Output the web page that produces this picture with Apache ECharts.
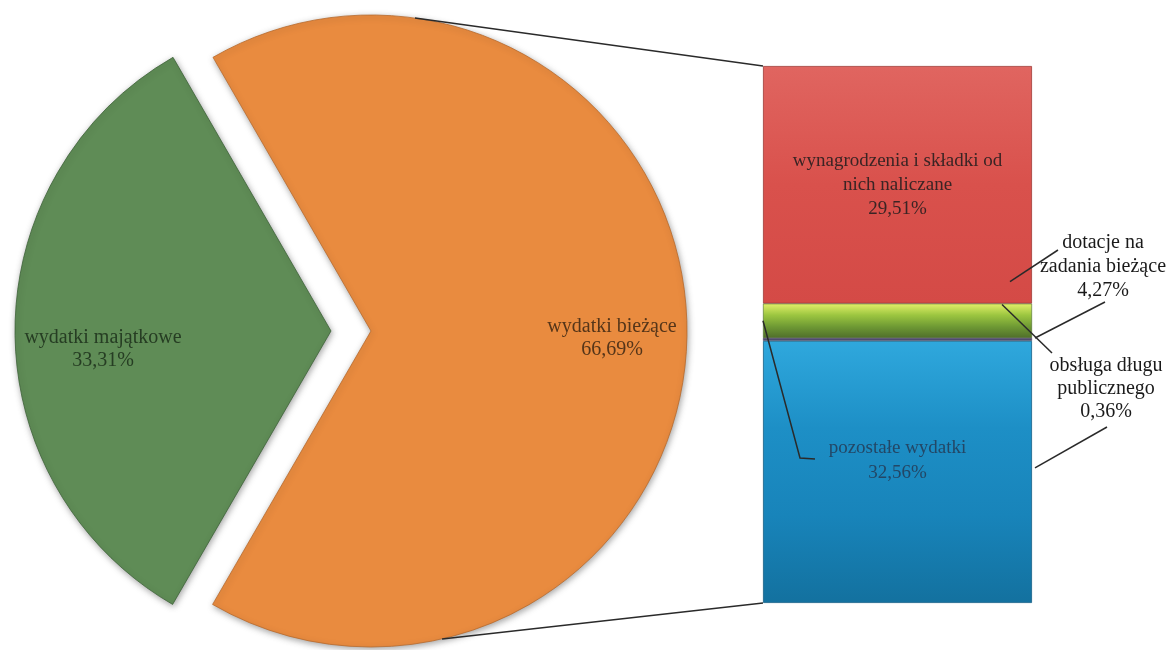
<!DOCTYPE html>
<html><head><meta charset="utf-8">
<script src="https://cdn.jsdelivr.net/npm/echarts@6/dist/echarts.min.js"></script>
<style>html,body{margin:0;padding:0;background:#fff}#c{width:1169px;height:650px}</style>
</head><body><div id="c"></div>
<script>
const pieNames = ['wydatki bieżące', 'wydatki majątkowe'];
const pieValues = [66.69, 33.31];
const barNames = ['wynagrodzenia i składki od\nnich naliczane', 'dotacje na\nzadania bieżące', 'obsługa długu\npublicznego', 'pozostałe wydatki'];
const barValues = [29.51, 4.27, 0.36, 32.56];

const fmt = v => v.toFixed(2).replace('.', ',') + '%';
const serif = 'Liberation Serif';
const CX = 371, CY = 331, R = 316, EXPLODE = 40;
const BAR_L = 763, BAR_W = 269, BAR_T = 66, BAR_H = 537;
const barTotal = barValues.reduce((a, b) => a + b, 0);

const chart = echarts.init(document.getElementById('c'));

const vgrad = stops => ({type: 'linear', x: 0, y: 0, x2: 0, y2: 1,
  colorStops: stops.map((c, i) => ({offset: i / (stops.length - 1), color: c}))});

const barStyles = [
  {color: vgrad(['#e06560', '#d9514c', '#d44a46']), borderColor: '#9e3a36', borderWidth: 0.8},
  {color: vgrad(['#e4ef6a', '#9cc640', '#6f9a34', '#4f6e2a']), borderColor: '#4a6a2a', borderWidth: 0.6},
  {color: '#4f4a6e', borderColor: '#3a3550', borderWidth: 0.5},
  {color: vgrad(['#2fa8dd', '#1d8fc6', '#1884ba', '#13719f']), borderColor: '#155f85', borderWidth: 0.8}
];
const barLabels = [
  {show: true, position: 'inside', color: '#3a2424', fontSize: 19, lineHeight: 24},
  {show: true, position: 'inside', color: '#1a1a1a', fontSize: 20, lineHeight: 24},
  {show: true, position: 'inside', color: '#1a1a1a', fontSize: 20, lineHeight: 23},
  {show: true, position: 'inside', color: '#234766', fontSize: 19, lineHeight: 25}
];
const barLayouts = [
  null,
  {x: 1103, y: 267, align: 'center', verticalAlign: 'middle'},
  {x: 1106, y: 389, align: 'center', verticalAlign: 'middle'},
  {dy: -11}
];

const barSeries = barValues.map((v, i) => {
  const s = {
    type: 'bar', name: barNames[i], stack: 'total', xAxisIndex: 0, yAxisIndex: 0,
    barWidth: '100%', data: [v], itemStyle: barStyles[i],
    label: Object.assign({fontFamily: serif, formatter: p => barNames[i] + '\n' + fmt(p.value)}, barLabels[i]),
    emphasis: {disabled: true}
  };
  if (barLayouts[i]) s.labelLayout = barLayouts[i];
  return s;
});

const pieColors = ['#e98b3f', '#5f8c56'];
const pieBorders = ['#b8692c', '#3e6238'];
const pieLabelColors = ['#553519', '#263d23'];
const pieLabelPos = [[612, 338], [103, 349]];
const pieCenters = [[CX, CY], [CX - EXPLODE, CY]];

// one pie series per slice (the other slice kept invisible) so that the exploded slice has its own centre
const pieSeries = pieValues.map((v, k) => ({
  type: 'pie', center: pieCenters[k], radius: R, startAngle: 120, clockwise: true,
  emphasis: {disabled: true}, silent: true,
  data: pieValues.map((val, j) => j === k
    ? {name: pieNames[j], value: val,
       itemStyle: {color: pieColors[j], borderColor: pieBorders[j], borderWidth: 0.8,
         shadowBlur: 6, shadowColor: 'rgba(0,0,0,0.35)', shadowOffsetX: 1, shadowOffsetY: 2},
       label: {show: true, color: pieLabelColors[j]}}
    : {name: pieNames[j], value: val, itemStyle: {color: 'rgba(0,0,0,0)', borderWidth: 0},
       label: {show: false}}),
  label: {position: 'inside', fontFamily: serif, fontSize: 20, lineHeight: 23,
    formatter: p => p.name + '\n' + fmt(p.value)},
  labelLine: {show: false},
  labelLayout: {x: pieLabelPos[k][0], y: pieLabelPos[k][1], align: 'center', verticalAlign: 'middle'},
  z: 2
}));

chart.setOption({
  animation: false,
  backgroundColor: '#ffffff',
  grid: [{left: BAR_L, top: BAR_T, width: BAR_W, height: BAR_H}],
  xAxis: [{type: 'category', data: ['inne'], show: false, gridIndex: 0}],
  yAxis: [{type: 'value', min: 0, max: barTotal, inverse: true, show: false, gridIndex: 0}],
  series: pieSeries.concat(barSeries)
});

const yPix = v => chart.convertToPixel({yAxisIndex: 0}, v);
const c1 = barValues[0], c2 = c1 + barValues[1], c3 = c2 + barValues[2];
const rightX = BAR_L + BAR_W;
const rad = a => a * Math.PI / 180;
const pTop = [CX + R * Math.cos(rad(82)), CY - R * Math.sin(rad(82))];
const pBot = [CX + R * Math.cos(rad(-77)), CY - R * Math.sin(rad(-77))];
const lineStyle = {stroke: '#2a2a2a', lineWidth: 1.5, fill: null};
const mk = pts => ({type: 'polyline', shape: {points: pts}, style: lineStyle, z: 10, silent: true});

chart.setOption({graphic: [
  mk([pTop, [BAR_L, yPix(0)]]),
  mk([pBot, [BAR_L, yPix(barTotal)]]),
  mk([[1058, 250], [rightX - 22, yPix(c1) - 22]]),
  mk([[1105, 302], [rightX + 3, yPix(c2)]]),
  mk([[1052, 353], [rightX - 30, yPix(c1) + 1]]),
  mk([[1107, 427], [rightX + 3, yPix(c3 + barValues[3] / 2) - 4]]),
  mk([[815, 459], [800, 458], [BAR_L, yPix(c1 + barValues[1] / 2)]])
]});
</script>
</body></html>
